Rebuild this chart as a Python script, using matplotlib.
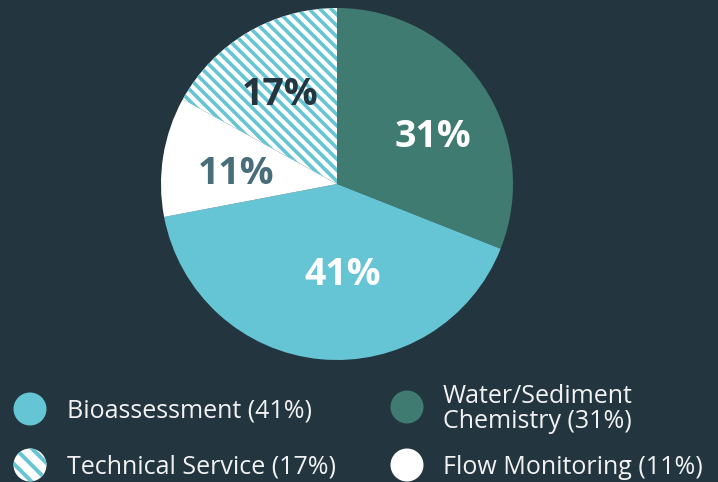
import matplotlib.pyplot as plt
from matplotlib.patches import Circle

plt.rcParams['font.family'] = ['Open Sans', 'DejaVu Sans']

# data, clockwise from 12 o'clock
labels = ['Water/Sediment\nChemistry', 'Bioassessment', 'Flow Monitoring', 'Technical Service']
values = [31, 41, 11, 17]
colors = ['#3f7b70', '#66c5d4', '#ffffff', '#ffffff']
hatched = [False, False, False, True]
pct_colors = ['white', 'white', '#486e7c', '#233640']
# label spots in pie units (radius = 1)
pct_xy = [(0.543, 0.295), (0.031, -0.494), (-0.571, 0.080), (-0.324, 0.534)]

bg = '#233640'
blue = '#66c5d4'

fig = plt.figure(figsize=(7.18, 4.82), dpi=100, facecolor=bg)
W, H = 718, 482
cx, cy, r = 337, 184, 176
ax = fig.add_axes([(cx - r) / W, 1 - (cy + r) / H, 2 * r / W, 2 * r / H])
ax.set_facecolor(bg)

plt.rcParams['hatch.linewidth'] = 2.6
wedges, texts, autotexts = ax.pie(values, colors=colors, startangle=90, counterclock=False,
                                  autopct='%d%%', wedgeprops=dict(linewidth=0))
for w, h in zip(wedges, hatched):
    if h:
        w.set_hatch('\\\\\\')
        w.set_edgecolor(blue)
        w.set_linewidth(0)
for t, c, xy in zip(autotexts, pct_colors, pct_xy):
    t.set_position(xy)
    t.set_verticalalignment('center_baseline')
    t.set_color(c)
    t.set_fontsize(27)
    t.set_fontweight('bold')
ax.set_xlim(-1, 1)
ax.set_ylim(-1, 1)
ax.set_aspect('equal')

# legend drawn by hand in pixel positions
leg = [  # (label index, marker x, marker y, text x)
    (1, 30, 409, 67),
    (3, 30, 465, 67),
    (0, 407, 407, 443),
    (2, 407, 465, 443),
]
lax = fig.add_axes([0, 0, 1, 1])
lax.set_xlim(0, W)
lax.set_ylim(H, 0)
lax.axis('off')
plt.rcParams['hatch.linewidth'] = 2.8
for i, mx, my, tx in leg:
    c = Circle((mx, my), 16.5, facecolor=colors[i], linewidth=0)
    if hatched[i]:
        c.set_hatch('\\\\')
        c.set_edgecolor(blue)
    lax.add_patch(c)
    name = labels[i] if i == 0 else labels[i].replace('\n', ' ')
    lax.text(tx, my + 2, f'{name} ({values[i]}%)', color='#f2f2f2', fontsize=18,
             va='center', ha='left', linespacing=1.0)

fig.savefig('out.png', dpi=100, facecolor=bg)
